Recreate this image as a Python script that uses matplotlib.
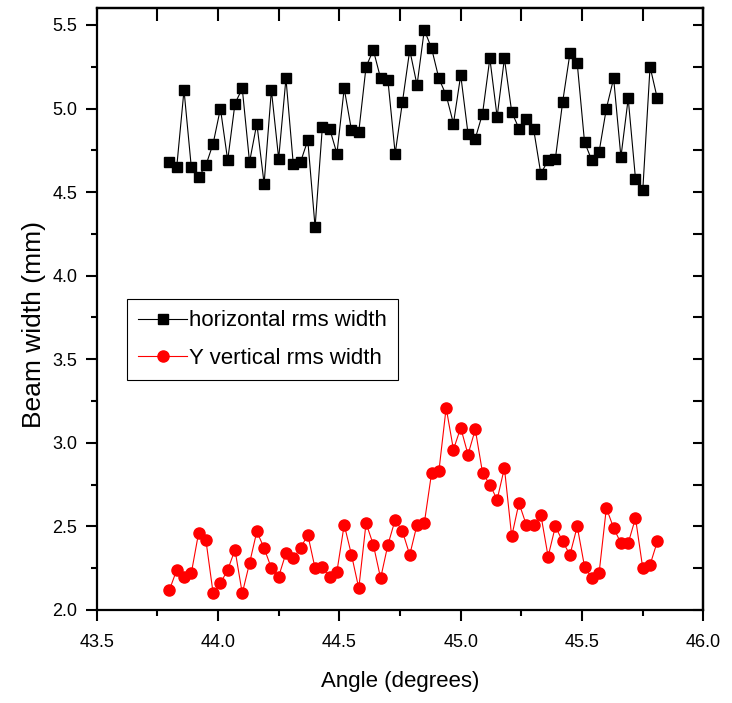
import numpy as np
import matplotlib.pyplot as plt
from matplotlib.ticker import MultipleLocator

plt.rcParams['font.family'] = ['Liberation Sans', 'DejaVu Sans']

# angle positions (degrees)
angle = np.round(43.80 + 0.03 * np.arange(68), 2)

horiz_width = [4.68, 4.65, 5.11, 4.65, 4.59, 4.66, 4.79, 5.00, 4.69, 5.03,
               5.12, 4.68, 4.91, 4.55, 5.11, 4.70, 5.18, 4.67, 4.68, 4.81,
               4.29, 4.89, 4.88, 4.73, 5.12, 4.87, 4.86, 5.25, 5.35, 5.18,
               5.17, 4.73, 5.04, 5.35, 5.14, 5.47, 5.36, 5.18, 5.08, 4.91,
               5.20, 4.85, 4.82, 4.97, 5.30, 4.95, 5.30, 4.98, 4.88, 4.94,
               4.88, 4.61, 4.69, 4.70, 5.04, 5.33, 5.27, 4.80, 4.69, 4.74,
               5.00, 5.18, 4.71, 5.06, 4.58, 4.51, 5.25, 5.06]

vert_width = [2.12, 2.24, 2.20, 2.22, 2.46, 2.42, 2.10, 2.16, 2.24, 2.36,
              2.10, 2.28, 2.47, 2.37, 2.25, 2.20, 2.34, 2.31, 2.37, 2.45,
              2.25, 2.26, 2.20, 2.23, 2.51, 2.33, 2.13, 2.52, 2.39, 2.19,
              2.39, 2.54, 2.47, 2.33, 2.51, 2.52, 2.82, 2.83, 3.21, 2.96,
              3.09, 2.93, 3.08, 2.82, 2.75, 2.66, 2.85, 2.44, 2.64, 2.51,
              2.51, 2.57, 2.32, 2.50, 2.41, 2.33, 2.50, 2.26, 2.19, 2.22,
              2.61, 2.49, 2.40, 2.40, 2.55, 2.25, 2.27, 2.41]

fig = plt.figure(figsize=(7.32, 7.03), dpi=100)
ax = fig.add_axes([0.132, 0.1323, 0.829, 0.856])

ax.plot(angle, horiz_width, color='black', lw=0.8, marker='s', ms=7,
        label='horizontal rms width')
ax.plot(angle, vert_width, color='red', lw=0.8, marker='o', ms=8,
        label='Y vertical rms width')

ax.set_xlim(43.5, 46.0)
ax.set_ylim(2.0, 5.6)
ax.xaxis.set_major_locator(MultipleLocator(0.5))
ax.xaxis.set_minor_locator(MultipleLocator(0.25))
ax.yaxis.set_major_locator(MultipleLocator(0.5))
ax.yaxis.set_minor_locator(MultipleLocator(0.25))
ax.xaxis.set_major_formatter(lambda v, p: f"{v:.1f}")
ax.yaxis.set_major_formatter(lambda v, p: f"{v:.1f}")

for s in ax.spines.values():
    s.set_linewidth(1.6)

ax.tick_params(axis='both', which='major', direction='out', length=8,
               width=1.5, labelsize=13)
ax.tick_params(axis='both', which='minor', direction='out', length=4.5,
               width=1.5)
ax.tick_params(axis='x', which='major', pad=9)
ax.tick_params(axis='y', which='major', pad=6)

top = ax.secondary_xaxis('top')
top.xaxis.set_major_locator(MultipleLocator(0.25))
top.tick_params(direction='in', length=9, width=1.5, labeltop=False)
right = ax.secondary_yaxis('right')
right.yaxis.set_major_locator(MultipleLocator(0.25))
right.tick_params(direction='in', length=7, width=1.5, labelright=False)
top.spines['top'].set_linewidth(1.6)
right.spines['right'].set_linewidth(1.6)

ax.set_xlabel('Angle (degrees)', fontsize=16)
ax.set_ylabel('Beam width (mm)', fontsize=19)
ax.xaxis.set_label_coords(0.5, -0.101)
ax.yaxis.set_label_coords(-0.083, 0.475)

leg = ax.legend(loc='lower left', bbox_to_anchor=(0.05, 0.382),
                borderaxespad=0, fontsize=16, fancybox=False,
                edgecolor='black', framealpha=1, handlelength=2.2,
                handletextpad=0.1, labelspacing=0.75, borderpad=0.5)
leg.get_frame().set_linewidth(0.8)

plt.savefig('out.png', dpi=100)
